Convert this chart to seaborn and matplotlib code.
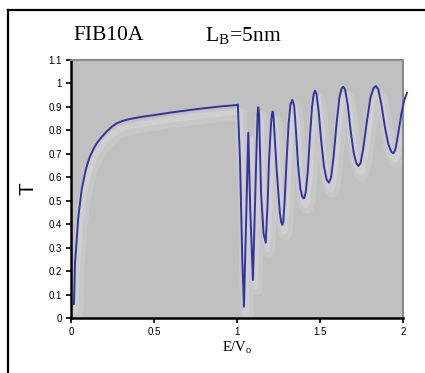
import numpy as np
import seaborn as sns
import matplotlib
matplotlib.use("Agg")
import matplotlib.pyplot as plt
import matplotlib.transforms as mtransforms
from matplotlib.lines import Line2D

# transmission curve
energy = [0.018, 0.024, 0.030, 0.044, 0.064, 0.084, 0.100, 0.114, 0.135, 0.155,
          0.185, 0.215, 0.245, 0.275, 0.31, 0.35, 0.42, 0.50, 0.60, 0.75,
          0.90, 1.000, 1.005,
          1.018, 1.032, 1.042, 1.054, 1.068, 1.080, 1.096, 1.113, 1.124, 1.128,
          1.133, 1.145, 1.160, 1.173, 1.185, 1.193, 1.205, 1.211, 1.215, 1.220,
          1.228, 1.239, 1.258, 1.266,
          1.273, 1.279, 1.287, 1.299, 1.311, 1.322, 1.333, 1.344, 1.355, 1.368,
          1.382, 1.394, 1.404, 1.414, 1.426, 1.440, 1.452, 1.462, 1.470, 1.479,
          1.492, 1.508, 1.524, 1.540, 1.554, 1.567, 1.582, 1.600, 1.617, 1.630,
          1.640, 1.651, 1.667, 1.686, 1.704, 1.719, 1.731, 1.744, 1.760, 1.781,
          1.804, 1.822, 1.837, 1.851, 1.870, 1.892, 1.912, 1.930, 1.942, 1.955,
          1.972, 1.990, 2.008, 2.024]
trans = [0.06, 0.235, 0.29, 0.43, 0.546, 0.617, 0.66, 0.688, 0.72, 0.745,
         0.772, 0.795, 0.815, 0.83, 0.84, 0.848, 0.857, 0.865, 0.876, 0.890,
         0.902, 0.908, 0.91,
         0.674, 0.247, 0.048, 0.39, 0.79, 0.46, 0.162, 0.603, 0.87, 0.898,
         0.87, 0.533, 0.36, 0.321, 0.50, 0.674, 0.83, 0.87, 0.88, 0.86,
         0.76, 0.631, 0.45, 0.41,
         0.397, 0.41, 0.50, 0.674, 0.83, 0.91, 0.93, 0.905, 0.80, 0.65,
         0.55, 0.515, 0.51, 0.535, 0.62, 0.78, 0.90, 0.955, 0.969, 0.955,
         0.88, 0.75, 0.645, 0.59, 0.577, 0.60, 0.69, 0.83, 0.94, 0.978,
         0.986, 0.975, 0.91, 0.79, 0.70, 0.66, 0.648, 0.66, 0.72, 0.83,
         0.94, 0.980, 0.989, 0.975, 0.91, 0.81, 0.74, 0.708, 0.702, 0.72,
         0.79, 0.87, 0.93, 0.96]

xticks = [0, 0.5, 1, 1.5, 2]
xtick_labels = ["0", "0.5", "1", "1.5", "2"]
yticks = [0, 0.1, 0.2, 0.3, 0.4, 0.5, 0.6, 0.7, 0.8, 0.9, 1.0, 1.1]
ytick_labels = ["0", "0.1", "0.2", "0.3", "0.4", "0.5", "0.6", "0.7", "0.8", "0.9", "1", "1.1"]

plt.rcParams["mathtext.fontset"] = "stix"

fig = plt.figure(figsize=(4.25, 3.73), dpi=100)
fig.patch.set_facecolor("white")
ax = fig.add_axes([71 / 425, 55 / 373, 332 / 425, 258 / 373])
ax.set_facecolor("#c0c0c0")

# faint white shadow below the curve
for dx, dy, lw, a in [(3, -9, 9, 0.12), (2, -7, 4, 0.15)]:
    tr = mtransforms.offset_copy(ax.transData, fig=fig, x=dx, y=dy, units="dots")
    ax.plot(energy, trans, color="white", lw=lw, alpha=a, transform=tr,
            solid_capstyle="round", zorder=2)

sns.lineplot(x=energy, y=trans, ax=ax, color="#3434a0", lw=1.4, sort=False,
             zorder=3)
ax.lines[-1].set_clip_on(False)

ax.set_xlim(0, 2)
ax.set_ylim(0, 1.1)
ax.set_xticks(xticks)
ax.set_xticklabels(xtick_labels)
ax.set_yticks(yticks)
ax.set_yticklabels(ytick_labels)
ax.tick_params(axis="both", direction="out", length=3.5, width=1.2,
               labelsize=7, colors="black", pad=3)
for lbl in ax.get_xticklabels() + ax.get_yticklabels():
    lbl.set_fontfamily("Liberation Sans")

ax.spines["left"].set_color("black")
ax.spines["bottom"].set_color("black")
ax.spines["left"].set_linewidth(1.8)
ax.spines["bottom"].set_linewidth(1.8)
ax.spines["top"].set_color("#8a8a8a")
ax.spines["right"].set_color("#8a8a8a")
ax.spines["top"].set_linewidth(1.5)
ax.spines["right"].set_linewidth(1.5)

ax.set_xlabel("E/V$_\\mathregular{o}$", fontfamily="Liberation Serif",
              fontsize=10.5, labelpad=2)
ax.set_ylabel("T", fontfamily="Liberation Sans", fontsize=15, labelpad=8)

fig.text(73 / 425, 1 - 35 / 373, "FIB10A", fontfamily="Liberation Serif",
         fontsize=15.5, va="center", ha="left")
fig.text(205 / 425, 1 - 35 / 373, "L$_\\mathregular{B}$=5nm",
         fontfamily="Liberation Serif", fontsize=15.5, va="center", ha="left")

# outer frame
fig.add_artist(Line2D([8 / 425, 8 / 425], [0, 1 - 10 / 373], color="black",
                      lw=1.6, transform=fig.transFigure))
fig.add_artist(Line2D([8 / 425, 1], [1 - 10 / 373, 1 - 10 / 373], color="black",
                      lw=1.6, transform=fig.transFigure))

fig.savefig("out.png", dpi=100)
